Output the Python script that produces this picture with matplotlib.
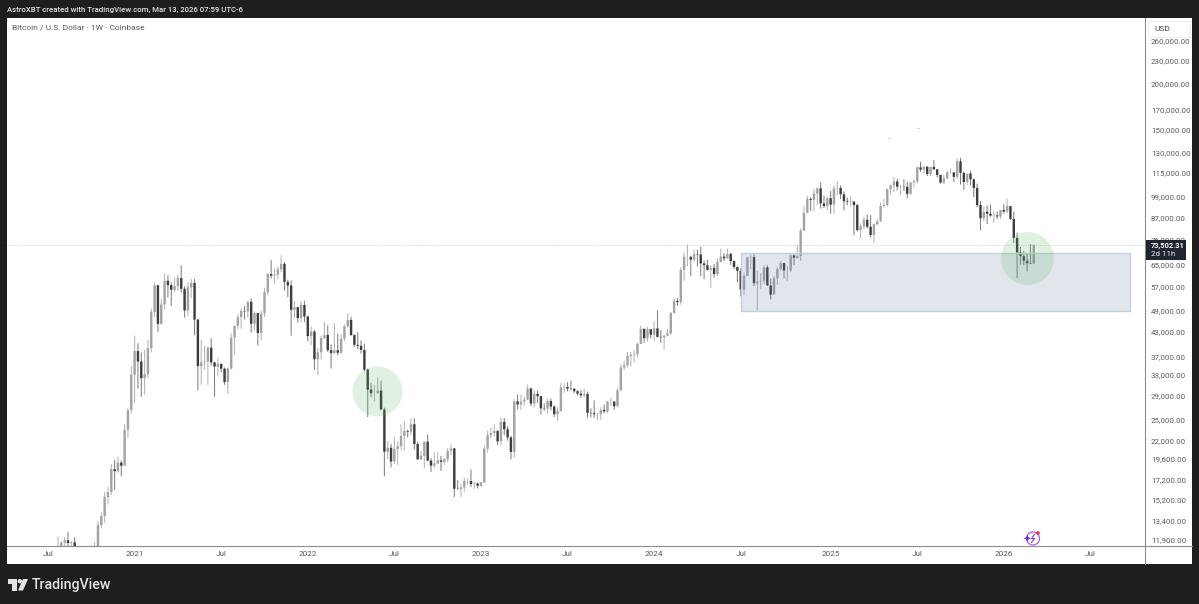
#!/usr/bin/env python3
"""
BTCUSD weekly candles in a TradingView snapshot layout.
"""
import matplotlib
matplotlib.use("Agg")
import matplotlib.pyplot as plt
import matplotlib.patches as patches

plt.rcParams['font.family'] = ['Roboto', 'DejaVu Sans']

W, H = 1199, 604

# weekly candles in thousands of USD, first week is Jul 27 2020, one row per year
opens = [
    10.99, 11.06, 11.68, 11.85, 11.65, 11.70, 10.26, 10.33, 10.92, 10.77, 10.66, 11.37, 11.37, 13.03, 13.76, 15.48, 15.96, 18.40, 18.17, 19.15, 18.80, 23.48, 26.50,
    33.00, 38.20, 35.80, 32.30, 33.10, 38.90, 48.60, 57.40, 45.20, 50.95, 59.00, 57.40, 55.80, 57.05, 60.00, 56.15, 49.10, 56.60, 58.20, 46.40, 34.80, 35.65, 35.80, 39.00, 35.60, 34.70, 35.30, 34.25, 31.53, 34.30, 41.50, 44.60, 47.10, 48.90, 48.80, 51.80, 45.20, 48.30, 42.70, 48.20, 55.00, 61.50, 60.90, 61.30, 63.30, 65.50, 58.60, 57.30, 49.30, 50.10, 46.85, 50.80,
    47.30, 41.90, 43.10, 36.30, 37.90, 41.40, 42.20, 38.40, 37.70, 38.40, 37.80, 41.25, 44.50, 46.30, 42.15, 39.70, 39.45, 38.45, 34.05, 30.10, 29.45, 29.45, 29.90, 26.60, 20.50, 21.00, 19.30, 20.85, 21.20, 22.60, 23.30, 23.20, 24.30, 21.50, 19.55, 19.99, 21.80, 19.40, 18.80, 19.05, 19.43, 19.26, 19.57, 20.60, 20.92, 16.30, 16.28, 16.43, 17.10, 17.10, 16.78, 16.83,
    16.60, 16.95, 20.90, 22.70, 23.00, 23.30, 21.85, 24.65, 23.55, 22.40, 20.47, 27.98, 27.45, 27.95, 28.30, 30.30, 27.60, 29.30, 28.90, 26.80, 26.75, 28.05, 27.10, 25.85, 26.35, 30.50, 30.60, 30.30, 30.25, 29.80, 29.35, 29.05, 29.30, 26.05, 26.00, 25.85, 25.85, 26.55, 26.30, 27.95, 27.95, 27.15, 29.95, 34.50, 35.00, 37.10, 37.35, 37.45, 39.95, 43.80, 41.35, 43.70,
    42.25, 43.95, 41.70, 41.60, 42.00, 42.60, 48.30, 52.10, 51.70, 63.10, 68.40, 68.40, 67.20, 69.60, 69.40, 65.65, 64.95, 63.10, 63.90, 61.50, 66.30, 68.50, 67.75, 69.65, 66.65, 64.25, 62.70, 55.90, 60.80, 68.20, 68.30, 58.10, 58.70, 58.90, 64.10, 57.30, 54.15, 59.95, 63.50, 65.80, 62.90, 62.90, 69.00, 68.00, 68.70, 80.50, 89.80, 97.90, 97.30, 101.20, 104.50, 95.20, 93.70,
    98.30, 94.50, 104.50, 104.70, 100.70, 96.50, 96.10, 96.25, 94.20, 80.70, 82.60, 86.00, 82.40, 78.35, 83.70, 85.10, 93.70, 94.30, 104.00, 106.40, 109.00, 105.60, 105.70, 105.50, 101.00, 108.30, 109.10, 119.00, 117.30, 119.40, 114.20, 119.30, 117.50, 113.50, 108.30, 111.10, 115.30, 115.30, 112.20, 123.50, 115.00, 108.70, 114.50, 110.50, 104.70, 94.20, 86.80, 90.40, 89.30, 88.20, 88.40, 87.80,
    91.40, 90.50, 93.60, 86.50, 76.90, 70.30, 68.70, 66.80, 65.80, 65.60,
]
highs = [
    12.12, 11.80, 12.08, 12.48, 11.79, 12.09, 10.60, 11.17, 11.05, 10.95, 11.48, 11.73, 13.35, 14.10, 15.97, 16.50, 18.95, 19.48, 19.90, 19.40, 24.30, 26.90, 34.80,
    42.00, 40.10, 37.90, 38.50, 40.95, 49.70, 58.35, 57.50, 52.65, 61.80, 61.00, 58.40, 60.20, 61.30, 64.90, 57.00, 58.50, 59.60, 59.60, 46.60, 40.90, 39.50, 39.35, 41.30, 35.70, 36.70, 35.30, 34.50, 34.50, 42.60, 44.70, 48.10, 49.70, 50.50, 52.00, 52.90, 48.80, 48.35, 49.00, 56.50, 62.00, 67.00, 63.70, 64.30, 69.00, 66.30, 59.40, 59.10, 51.90, 50.20, 52.00, 52.10,
    47.50, 44.50, 43.50, 38.90, 42.00, 45.80, 44.80, 39.80, 45.40, 42.60, 42.40, 45.00, 48.20, 47.20, 42.40, 42.90, 40.80, 40.00, 34.25, 31.40, 31.00, 32.40, 31.80, 26.90, 21.90, 21.50, 22.50, 21.80, 24.30, 24.70, 23.50, 25.20, 25.20, 21.80, 20.60, 21.85, 22.80, 19.70, 20.40, 20.45, 19.95, 19.70, 21.00, 21.45, 21.00, 17.20, 16.80, 17.40, 17.40, 18.35, 17.00, 16.95,
    17.00, 21.30, 23.35, 23.80, 24.25, 23.45, 25.25, 25.25, 24.00, 22.60, 28.40, 29.20, 29.20, 28.80, 31.00, 30.50, 30.00, 29.90, 28.95, 27.65, 28.45, 28.45, 27.30, 27.00, 31.40, 31.30, 31.50, 31.80, 30.40, 30.00, 30.00, 30.25, 29.70, 26.80, 28.15, 26.05, 27.00, 27.45, 28.05, 28.60, 28.00, 30.35, 35.20, 35.95, 38.00, 37.95, 38.40, 40.20, 44.70, 44.00, 44.30, 43.80,
    45.90, 49.10, 43.55, 42.20, 43.85, 48.60, 52.85, 52.95, 64.00, 70.20, 73.80, 68.90, 71.60, 71.40, 72.80, 66.90, 67.20, 64.70, 65.50, 67.70, 71.95, 70.00, 71.95, 70.15, 66.95, 64.25, 63.80, 61.80, 68.40, 69.40, 70.00, 62.70, 61.80, 65.00, 64.90, 59.80, 60.65, 64.15, 66.50, 66.00, 64.50, 69.40, 69.50, 73.60, 81.50, 93.50, 99.80, 98.90, 104.00, 105.00, 108.30, 99.90, 99.00,
    102.70, 106.40, 109.35, 106.50, 102.50, 98.80, 99.50, 96.50, 95.00, 84.00, 87.45, 88.80, 88.50, 84.00, 86.50, 95.70, 97.90, 104.30, 107.00, 112.00, 110.70, 106.80, 110.40, 108.90, 108.80, 110.50, 119.40, 123.20, 120.20, 119.80, 119.30, 124.50, 117.60, 113.60, 113.40, 116.70, 118.00, 115.40, 125.70, 126.20, 116.00, 114.00, 116.40, 111.00, 107.50, 96.50, 93.10, 94.00, 94.60, 90.60, 90.50, 90.00,
    94.80, 97.90, 93.70, 90.50, 79.40, 72.70, 71.00, 69.90, 74.00, 74.00,
]
lows = [
    10.52, 10.95, 11.15, 11.34, 11.12, 9.88, 9.80, 10.20, 10.13, 10.40, 10.54, 11.19, 11.40, 12.75, 13.20, 14.80, 15.70, 16.20, 18.00, 17.60, 18.80, 22.35, 26.00,
    27.70, 30.30, 28.80, 29.20, 32.30, 37.90, 47.10, 43.00, 44.95, 49.30, 53.20, 50.50, 55.00, 55.50, 55.00, 47.00, 47.50, 52.90, 42.10, 30.00, 31.00, 34.10, 31.00, 34.90, 28.80, 32.70, 33.50, 31.00, 29.30, 34.00, 37.30, 43.80, 43.90, 46.40, 46.90, 42.80, 43.50, 39.60, 40.75, 47.10, 53.90, 59.80, 57.80, 59.50, 62.30, 55.60, 53.30, 42.00, 46.80, 45.50, 45.60, 45.70,
    40.50, 39.65, 34.00, 32.90, 36.20, 41.10, 38.00, 34.30, 37.60, 37.20, 37.50, 40.50, 44.20, 42.00, 39.20, 38.60, 37.60, 33.70, 25.40, 28.70, 28.00, 29.30, 26.60, 17.60, 19.60, 18.60, 19.00, 18.90, 20.70, 20.70, 22.40, 22.70, 20.80, 19.50, 19.50, 18.50, 19.30, 18.10, 18.50, 19.00, 18.20, 18.90, 19.20, 20.05, 15.50, 16.20, 15.50, 16.00, 16.70, 16.50, 16.30, 16.35,
    16.50, 16.90, 20.40, 22.30, 22.50, 21.35, 21.40, 22.70, 21.95, 19.55, 19.80, 26.60, 26.55, 27.25, 28.15, 27.15, 26.95, 27.70, 25.80, 26.40, 25.90, 26.50, 25.40, 24.80, 26.25, 29.50, 29.75, 29.95, 29.50, 29.00, 28.60, 28.70, 25.30, 25.35, 25.30, 24.90, 24.95, 26.00, 26.00, 27.20, 26.55, 27.00, 29.90, 33.95, 34.50, 34.75, 35.60, 36.75, 39.95, 40.20, 40.50, 41.30,
    40.75, 41.50, 40.25, 38.50, 41.85, 42.25, 48.30, 50.60, 50.90, 59.00, 64.50, 60.80, 66.30, 64.50, 60.65, 59.60, 62.80, 56.50, 60.20, 60.75, 66.10, 66.65, 67.60, 65.05, 63.35, 58.40, 53.50, 54.25, 60.60, 63.40, 57.10, 49.10, 56.10, 57.80, 57.20, 52.50, 54.60, 57.50, 62.70, 59.80, 58.90, 62.10, 65.10, 67.50, 66.80, 80.20, 89.40, 90.80, 90.50, 94.20, 92.20, 92.50, 91.30,
    89.25, 89.20, 100.00, 97.80, 91.20, 94.10, 93.40, 78.20, 80.00, 76.60, 81.20, 81.60, 77.10, 74.50, 83.10, 85.00, 92.80, 93.30, 100.70, 102.00, 103.10, 100.40, 102.70, 98.20, 100.40, 105.10, 107.50, 115.70, 114.70, 112.70, 112.60, 117.20, 111.70, 107.40, 107.30, 110.70, 114.40, 108.70, 110.80, 107.00, 103.50, 106.70, 106.30, 98.90, 93.00, 80.60, 85.30, 83.80, 87.60, 84.40, 86.40, 86.60,
    89.30, 89.80, 86.00, 74.50, 60.00, 65.10, 65.00, 62.50, 65.40, 65.50,
]
closes = [
    11.06, 11.68, 11.85, 11.65, 11.70, 10.26, 10.33, 10.92, 10.77, 10.66, 11.37, 11.37, 13.03, 13.76, 15.48, 15.96, 18.40, 18.17, 19.15, 18.80, 23.48, 26.50, 33.00,
    38.20, 35.80, 32.30, 33.10, 38.90, 48.60, 57.40, 45.20, 50.95, 59.00, 57.40, 55.80, 57.05, 60.00, 56.15, 49.10, 56.60, 58.20, 46.40, 34.80, 35.65, 35.80, 39.00, 35.60, 34.70, 35.30, 34.25, 31.53, 34.30, 41.50, 44.60, 47.10, 48.90, 48.80, 51.80, 45.20, 48.30, 42.70, 48.20, 55.00, 61.50, 60.90, 61.30, 63.30, 65.50, 58.60, 57.30, 49.30, 50.10, 46.85, 50.80, 47.30,
    41.90, 43.10, 36.30, 37.90, 41.40, 42.20, 38.40, 37.70, 38.40, 37.80, 41.25, 44.50, 46.30, 42.15, 39.70, 39.45, 38.45, 34.05, 30.10, 29.45, 29.45, 29.90, 26.60, 20.50, 21.00, 19.30, 20.85, 21.20, 22.60, 23.30, 23.20, 24.30, 21.50, 19.55, 19.99, 21.80, 19.40, 18.80, 19.05, 19.43, 19.26, 19.57, 20.60, 20.92, 16.30, 16.28, 16.43, 17.10, 17.10, 16.78, 16.83, 16.60,
    16.95, 20.90, 22.70, 23.00, 23.30, 21.85, 24.65, 23.55, 22.40, 20.47, 27.98, 27.45, 27.95, 28.30, 30.30, 27.60, 29.30, 28.90, 26.80, 26.75, 28.05, 27.10, 25.85, 26.35, 30.50, 30.60, 30.30, 30.25, 29.80, 29.35, 29.05, 29.30, 26.05, 26.00, 25.85, 25.85, 26.55, 26.30, 27.95, 27.95, 27.15, 29.95, 34.50, 35.00, 37.10, 37.35, 37.45, 39.95, 43.80, 41.35, 43.70, 42.25,
    43.95, 41.70, 41.60, 42.00, 42.60, 48.30, 52.10, 51.70, 63.10, 68.40, 68.40, 67.20, 69.60, 69.40, 65.65, 64.95, 63.10, 63.90, 61.50, 66.30, 68.50, 67.75, 69.65, 66.65, 64.25, 62.70, 55.90, 60.80, 68.20, 68.30, 58.10, 58.70, 58.90, 64.10, 57.30, 54.15, 59.95, 63.50, 65.80, 62.90, 62.90, 69.00, 68.00, 68.70, 80.50, 89.80, 97.90, 97.30, 101.20, 104.50, 95.20, 93.70, 98.30,
    94.50, 104.50, 104.70, 100.70, 96.50, 96.10, 96.25, 94.20, 80.70, 82.60, 86.00, 82.40, 78.35, 83.70, 85.10, 93.70, 94.30, 104.00, 106.40, 109.00, 105.60, 105.70, 105.50, 101.00, 108.30, 109.10, 119.00, 117.30, 119.40, 114.20, 119.30, 117.50, 113.50, 108.30, 111.10, 115.30, 115.30, 112.20, 123.50, 115.00, 108.70, 114.50, 110.50, 104.70, 94.20, 86.80, 90.40, 89.30, 88.20, 88.40, 87.80, 91.40,
    90.50, 93.60, 86.50, 76.90, 70.30, 68.70, 66.80, 65.80, 65.60, 73.50231,
]

# time axis, as weeks counted from the first candle
time_ticks = [-3, 23, 49, 75, 101, 127, 153, 179, 205, 232, 258, 284, 310]
time_labels = ['Jul', '2021', 'Jul', '2022', 'Jul', '2023', 'Jul', '2024', 'Jul', '2025', 'Jul', '2026', 'Jul']

price_ticks = [260000, 230000, 200000, 170000, 150000, 130000, 115000, 99000, 87000, 76000, 65000,
               57000, 49000, 43000, 37000, 33000, 29000, 25000, 22000, 19600, 17200, 15200, 13400, 11900]

last_price = 73502.31
zone_weeks = (205, 322)
zone_prices = (48900, 69850)
circle_weeks = [95.8, 290.9]
circle_prices = [29830, 67800]


def fx(x):
    return x / W


def fy(y):
    return 1 - y / H


def rect_px(x0, y0, x1, y1, **kw):
    return patches.Rectangle((fx(x0), fy(y1)), (x1 - x0) / W, (y1 - y0) / H,
                             transform=fig.transFigure, **kw)


fig = plt.figure(figsize=(W / 100, H / 100), dpi=100, facecolor='#1e1e1e')

# white panel behind pane and scales
fig.add_artist(rect_px(7, 18, 1192, 564, facecolor='white', edgecolor='none', zorder=-5))

ax = fig.add_axes([fx(7), fy(546), 1138 / W, 528 / H])
ax.set_yscale('log')
ax.set_xlim(-15.32, 326.4)
ax.set_ylim(11440, 299600)
ax.patch.set_alpha(0)

for i, (o, h, l, c) in enumerate(zip(opens, highs, lows, closes)):
    up = c >= o
    wick = ax.vlines(i, l * 1000, h * 1000, color='#b4b4b4' if up else '#808080', lw=0.75, zorder=2)
    wick.set_snap(False)
    body = ax.bar(i, abs(c - o) * 1000, bottom=min(o, c) * 1000, width=0.72,
                  color='#a3a3a3' if up else '#3d3d3d', linewidth=0, zorder=3)
    body[0].set_snap(False)

# current price line
ax.axhline(last_price, color='#cfcfcf', lw=0.7, ls=(0, (1, 1.5)), zorder=1)

# highlighted zone
ax.add_patch(patches.Rectangle((zone_weeks[0], zone_prices[0]), zone_weeks[1] - zone_weeks[0],
                               zone_prices[1] - zone_prices[0], facecolor='#6a82a8', alpha=0.2,
                               edgecolor='none', zorder=4))
ax.add_patch(patches.Rectangle((zone_weeks[0], zone_prices[0]), zone_weeks[1] - zone_weeks[0],
                               zone_prices[1] - zone_prices[0], facecolor='none',
                               edgecolor='#c3cfdb', lw=1, zorder=4))

# green circles, size in points so log scale does not squash them
ax.scatter(circle_weeks[0], circle_prices[0], s=1296, color='#4caf50', alpha=0.17, linewidths=0, zorder=5)
ax.scatter(circle_weeks[1], circle_prices[1], s=1456, color='#4caf50', alpha=0.17, linewidths=0, zorder=5)

ax.yaxis.tick_right()
ax.set_yticks(price_ticks)
ax.set_yticklabels([f'{p:,.2f}' for p in price_ticks])
ax.minorticks_off()
ax.set_xticks(time_ticks)
ax.set_xticklabels(time_labels)
ax.tick_params(axis='y', length=0, pad=4.2, labelsize=5.7, labelcolor='#5a5a5a')
ax.tick_params(axis='x', length=0, pad=3.4, labelsize=5.9, labelcolor='#5a5a5a')
for side in ('top', 'left'):
    ax.spines[side].set_visible(False)
for side in ('right', 'bottom'):
    ax.spines[side].set_color('#8c8c8c')
    ax.spines[side].set_linewidth(0.8)

# rest of the scale border
fig.add_artist(plt.Line2D([fx(1145), fx(1145)], [fy(546), fy(564)], color='#8c8c8c', lw=0.8))
fig.add_artist(plt.Line2D([fx(1145), fx(1192)], [fy(546), fy(546)], color='#8c8c8c', lw=0.8))

# USD button
fig.add_artist(rect_px(1148, 20.5, 1189.5, 37, facecolor='white', edgecolor='#eeeeee', lw=0.8, zorder=6))
fig.text(fx(1154), fy(29), 'USD', fontsize=6.0, color='#444444', va='center', ha='left', zorder=7)

# last price tag
fig.add_artist(rect_px(1146, 240, 1185.5, 260, facecolor='#1e2430', edgecolor='none', zorder=6))
fig.text(fx(1151), fy(245.5), f'{last_price:,.2f}', fontsize=5.4, color='white', weight='bold',
         va='center', ha='left', zorder=7)
fig.text(fx(1151), fy(254.5), '2d 11h', fontsize=5.7, color='#e8e8e8', va='center', ha='left', zorder=7)

# header and legend
fig.text(fx(7), fy(9.5), 'AstroXBT created with TradingView.com, Mar 13, 2026 07:59 UTC-6', fontsize=5.6,
         color='#e6e6e6', weight='medium', va='center', ha='left')
fig.text(fx(11.5), fy(27.5), 'Bitcoin / U.S. Dollar · 1W · Coinbase', fontsize=6.0, color='#5a5a5a',
         va='center', ha='left')

# logo in the footer
tv = '#e4e4e4'
fig.add_artist(patches.Polygon([(fx(8), fy(579)), (fx(16.5), fy(579)), (fx(16.5), fy(590.5)), (fx(12), fy(590.5)),
                                (fx(12), fy(583.5)), (fx(8), fy(583.5))], closed=True, facecolor=tv,
                               edgecolor='none', transform=fig.transFigure))
fig.add_artist(patches.Polygon([(fx(23), fy(579)), (fx(28), fy(579)), (fx(23), fy(590.5)), (fx(18), fy(590.5))],
                               closed=True, facecolor=tv, edgecolor='none', transform=fig.transFigure))
fig.add_artist(patches.Ellipse((fx(19.8), fy(581.2)), 4.4 / W, 4.4 / H, facecolor=tv, edgecolor='none',
                               transform=fig.transFigure))
fig.text(fx(32), fy(584.5), 'TradingView', fontsize=10.2, color=tv, weight='medium', va='center', ha='left')

# small assistant badge near the time axis
fig.add_artist(patches.Ellipse((fx(1033), fy(538.5)), 13 / W, 13 / H, facecolor='none', edgecolor='#b05ce0',
                               lw=0.9, transform=fig.transFigure, zorder=6))
fig.add_artist(plt.Line2D([fx(1034.5), fx(1031.5), fx(1034.5), fx(1031.5)],
                          [fy(534.5), fy(538.5), fy(538.5), fy(542.5)], color='#8a3fd4', lw=0.8, zorder=7))
fig.add_artist(patches.Ellipse((fx(1038), fy(533)), 3.6 / W, 3.6 / H, facecolor='#f0303a', edgecolor='none',
                               transform=fig.transFigure, zorder=7))
fig.text(fx(1026.5), fy(540), '✦', fontsize=7.5, color='#5a3df0', va='center', ha='center',
         family='DejaVu Sans', zorder=8)

# stray faint ticks above the 2025 candles
fig.add_artist(plt.Line2D([fx(888), fx(890)], [fy(137.5), fy(137.5)], color='#d8d8d8', lw=0.7))
fig.add_artist(plt.Line2D([fx(917), fx(919)], [fy(127.5), fy(127.5)], color='#d8d8d8', lw=0.7))

fig.savefig('out.png', dpi=100, facecolor=fig.get_facecolor())
